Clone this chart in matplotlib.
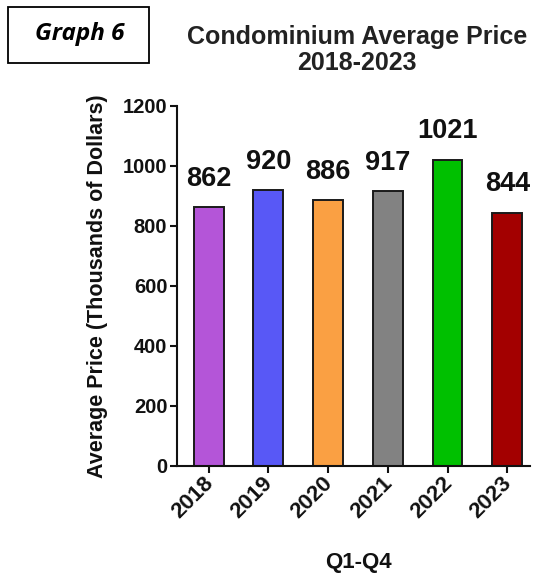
import matplotlib
matplotlib.use("Agg")
import matplotlib.pyplot as plt
from matplotlib.patches import Rectangle
from matplotlib.transforms import ScaledTranslation

years = ["2018", "2019", "2020", "2021", "2022", "2023"]
avg_price = [862, 920, 886, 917, 1021, 844]
bar_colors = ["#B455D8", "#5858F6", "#FAA043", "#828282", "#00C000", "#A30000"]
y_ticks = [0, 200, 400, 600, 800, 1000, 1200]

plt.rcParams["font.family"] = ["Liberation Sans", "DejaVu Sans"]
plt.rcParams["font.weight"] = "bold"

fig = plt.figure(figsize=(5.38, 5.75), dpi=100)
ax = fig.add_axes([0.329, 0.1896, 0.656, 0.6261])

x = list(range(len(years)))
ax.bar(x, avg_price, width=0.5, color=bar_colors, edgecolor="#1a1a1a", linewidth=1.4)

for xi, v in zip(x, avg_price):
    ax.annotate(str(v), (xi, v), xytext=(0, 11), textcoords="offset points",
                ha="center", va="bottom", fontsize=19.5, fontweight="bold", color="#111111")

ax.set_xlim(-0.53, 5.38)
ax.set_ylim(0, 1200)
ax.set_yticks(y_ticks)
ax.set_xticks(x)
ax.set_xticklabels(years, rotation=45, ha="right", va="top", rotation_mode="anchor")
ax.tick_params(axis="y", labelsize=14.5, width=1.5, length=5, color="#111111",
               labelcolor="#111111", pad=2)
ax.tick_params(axis="x", labelsize=16, width=1.5, length=5, color="#111111",
               labelcolor="#111111", pad=0)
# nudge the rotated year labels so their upper end sits at the tick
shift = ScaledTranslation(-6 / 100, 0, fig.dpi_scale_trans)
for lbl in ax.get_xticklabels():
    lbl.set_transform(lbl.get_transform() + shift)
for lbl in ax.get_xticklabels() + ax.get_yticklabels():
    lbl.set_fontweight("bold")

for side in ("top", "right"):
    ax.spines[side].set_visible(False)
for side in ("left", "bottom"):
    ax.spines[side].set_linewidth(1.5)
    ax.spines[side].set_color("#111111")

ax.set_ylabel("Average Price (Thousands of Dollars)", fontsize=15.5, fontweight="bold",
              color="#111111")
ax.yaxis.set_label_coords(-0.195, 0.5)
ax.set_xlabel("Q1-Q4", fontsize=16, fontweight="bold", color="#111111")
ax.xaxis.set_label_coords(0.513, -0.239)

fig.text(0.664, 1 - 50 / 575, "Condominium Average Price\n2018-2023", ha="center", va="center",
         fontsize=18, fontweight="bold", color="#222222", linespacing=1.15)

fig.patches.append(Rectangle((8 / 538, 1 - 63 / 575), 141 / 538, 56 / 575,
                             transform=fig.transFigure, fill=False,
                             edgecolor="black", linewidth=1.3))
fig.text(80 / 538, 1 - 34 / 575, "Graph 6", ha="center", va="center",
         fontsize=17.5, fontweight="bold", style="italic",
         family=["Open Sans", "DejaVu Sans"], color="black")

fig.savefig("out.png", dpi=100, facecolor="white")
